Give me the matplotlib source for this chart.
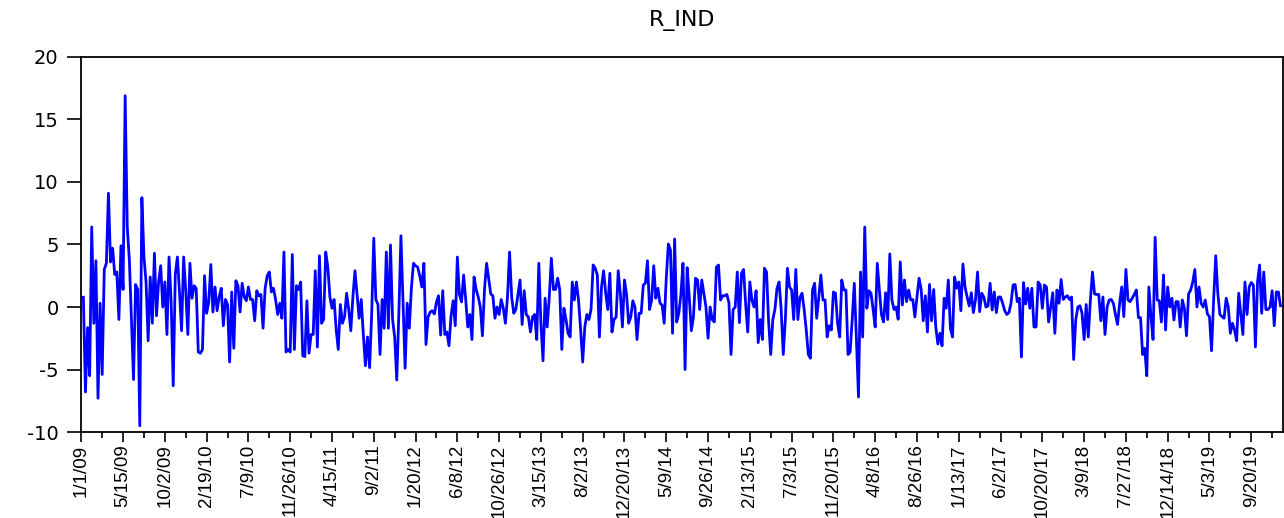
"""
weekly R_IND series, EViews style line plot
"""

import matplotlib

matplotlib.use("Agg")
import matplotlib.pyplot as plt
import numpy as np

plt.rcParams["axes.unicode_minus"] = False

# weekly values, in chunks of roughly one year
r_2009 = [0.78, -6.8, -1.65, -5.5, 6.4, -1.3, 3.7, -7.3, 0.3, -5.4,
          3.0, 3.5, 9.1, 3.6, 4.7, 2.6, 2.8, -1.0, 4.9, 1.4,
          16.9, 6.4, 3.8, -1.0, -5.8, 1.8, 1.4, -9.5, 8.75, 4.0,
          2.0, -2.7, 2.4, -1.3, 4.3, -0.7, 2.0, 3.3, 0.0, 2.0,
          -2.2, 4.0, 0.5, -6.3, 2.6, 4.0, 1.2, -1.9, 4.0, 1.3,
          -2.2, 3.5]
r_2010 = [0.7, 1.7, 1.5, -3.6, -3.7, -3.4, 2.5, -0.5, 0.4, 3.4,
          -0.4, 1.6, -0.3, 0.8, 1.5, -1.5, 0.6, 0.2, -4.4, 1.2,
          -3.3, 2.1, 1.7, -0.4, 1.9, 0.8, 0.5, 1.6, 0.6, 0.6,
          -1.1, 1.3, 0.9, 1.0, -1.7, 1.5, 2.5, 2.8, 1.2, 1.5,
          0.6, -0.6, 0.3, -0.9, 4.4, -3.6, -3.4, -3.6, 4.2, -3.4,
          1.7, 1.4]
r_2011 = [2.0, -3.9, -3.97, 0.5, -3.7, -2.2, -2.2, 2.9, -3.2, 4.1,
          -1.3, -1.0, 4.4, 3.2, 0.8, -0.1, 0.6, -1.8, -3.4, 0.2,
          -1.3, -0.8, 1.1, -0.2, -1.9, 0.8, 2.9, 1.0, -0.9, 0.6,
          -2.2, -4.7, -2.4, -4.85, -0.56, 5.5, 0.6, 0.2, -3.8, 0.6,
          -1.7, 4.4, -1.7, 4.96, -1.0, -2.4, -5.84, -0.5, 5.7, 0.5,
          -4.9, 0.3]
r_2012 = [-1.7, 1.5, 3.5, 3.3, 3.2, 2.5, 1.6, 3.5, -3.0, -0.8,
          -0.4, -0.3, -0.56, 0.4, 0.9, -2.24, 1.3, -2.2, -2.0, -3.1,
          -0.7, 0.5, -1.5, 4.0, 1.0, 0.4, 2.56, 0.6, -1.6, -0.6,
          -2.6, 2.4, 1.4, 0.8, 0.0, -2.3, 1.4, 3.5, 2.3, 1.04,
          0.9, -0.9, 0.0, -0.6, 0.6, -0.1, -1.3, 0.8, 4.4, 0.8,
          -0.5, -0.2]
r_2013 = [1.0, 2.16, -1.4, 1.3, -0.6, -0.8, -2.0, -0.8, -0.6, -2.6,
          3.5, -1.3, -4.3, 0.7, -1.6, 0.8, 3.9, 1.4, 1.4, 2.3,
          1.4, -3.4, -0.1, -1.0, -2.1, -2.4, 2.0, 0.56, 2.0, 0.56,
          -1.8, -4.4, -1.6, -0.6, -1.0, -0.2, 3.36, 3.1, 2.56, -2.4,
          1.6, 2.9, 1.1, -0.2, 2.7, -2.0, -1.0, -0.8, 2.9, 1.1,
          -1.6, 2.16]
r_2014 = [1.0, -1.3, -0.8, 0.5, 0.0, -2.6, -0.5, -0.5, 1.76, 1.9,
          3.7, -0.2, 0.56, 3.3, 0.7, 1.5, 0.3, 0.16, -1.3, 2.3,
          5.04, 4.56, -2.1, 5.44, -1.2, -0.5, 1.0, 3.5, -5.0, 3.15,
          0.8, -1.9, -0.8, 2.3, 2.16, -0.2, 2.16, 1.1, 0.0, -2.5,
          0.0, -1.0, -1.2, 3.2, 3.36, 0.56, 0.9, 0.9, 1.0, 0.35,
          -3.8, -0.2]
r_2015 = [0.0, 2.8, -1.25, 2.7, 3.0, 0.2, -2.0, 2.0, 0.56, 0.0,
          1.3, -2.85, -1.0, -2.6, 3.1, 2.8, -1.2, -3.8, -1.0, -0.2,
          1.5, 2.0, -0.2, -3.8, -1.0, 3.1, 1.6, 1.36, -1.0, 3.0,
          -1.0, 0.76, 1.1, -0.2, -1.84, -3.8, -4.1, 1.36, 1.9, -0.9,
          0.76, 2.56, 0.56, 0.56, -2.4, -1.5, -1.84, 1.2, 1.1, -1.3,
          -2.4, 2.16]
r_2016 = [1.36, 1.36, -3.8, -3.6, -1.0, 1.9, -2.5, -7.2, 2.8, -2.4,
          6.4, -0.1, 1.3, 1.1, -0.2, -1.6, 3.5, 1.36, -0.6, -1.2,
          1.14, -1.0, 4.24, 0.56, -0.2, 0.0, -0.98, 3.6, 0.16, 2.16,
          0.43, 1.36, 0.56, 0.6, -0.8, 0.8, 2.3, 1.4, -1.1, 0.9,
          -2.0, 1.8, -1.1, 1.4, -1.6, -2.96, -2.1, -3.1, 0.7, -0.1,
          2.16, -1.7]
r_2017 = [-2.4, 2.4, 1.5, 2.0, -0.3, 3.44, 1.6, 0.8, 0.08, 1.14,
          -0.45, 0.56, 2.8, -0.37, 1.1, 0.8, 0.0, 0.08, 1.9, -0.24,
          1.2, -0.45, 0.8, 0.8, 0.3, -0.3, -0.6, -0.45, 0.3, 1.76,
          1.8, 0.43, 0.7, -4.0, 1.95, 0.24, 1.5, -0.1, 1.5, -1.6,
          -1.6, 2.0, 1.76, -0.1, 1.76, 1.6, -1.2, 0.0, 1.14, -2.1,
          1.36, 0.3]
r_2018 = [2.2, 0.6, 0.8, 0.9, 0.6, 0.8, -4.2, -1.04, 0.0, 0.1,
          -0.5, -2.6, 0.2, -2.4, 0.56, 2.8, 1.04, 1.0, 1.0, -1.1,
          0.8, -2.2, 0.0, 0.56, 0.6, 0.3, -0.6, -1.4, 0.3, 1.6,
          -0.77, 3.0, 0.56, 0.43, 0.7, 1.0, 1.36, -0.85, -0.85, -3.8,
          -3.3, -5.5, 1.6, -0.77, -2.6, 5.57, 0.56, 0.5, -1.2, 2.56,
          -1.84, 1.6]
r_2019 = [0.0, 0.7, -1.04, 0.43, 0.43, -1.6, 0.56, -0.1, -2.3, 1.04,
          1.36, 2.0, 3.0, 0.0, 1.6, 0.3, 0.0, 0.56, -0.56, -0.77,
          -3.5, 0.6, 4.1, 1.1, -0.6, -0.77, -0.9, 0.7, 0.0, -2.1,
          -1.3, -1.84, -2.7, 1.1, -0.6, -2.2, 2.0, -0.6, 1.6, 1.96,
          1.76, -3.2, 2.0, 3.36, -0.5, 2.8, -0.2, -0.2, 0.0, 1.3,
          -1.5, 1.2, 1.2, 0.1]

r_ind = np.array(r_2009 + r_2010 + r_2011 + r_2012 + r_2013 + r_2014
                 + r_2015 + r_2016 + r_2017 + r_2018 + r_2019)

# date labels shown every 20 weeks
tick_labels = ["1/1/09", "5/15/09", "10/2/09", "2/19/10", "7/9/10",
               "11/26/10", "4/15/11", "9/2/11", "1/20/12", "6/8/12",
               "10/26/12", "3/15/13", "8/2/13", "12/20/13", "5/9/14",
               "9/26/14", "2/13/15", "7/3/15", "11/20/15", "4/8/16",
               "8/26/16", "1/13/17", "6/2/17", "10/20/17", "3/9/18",
               "7/27/18", "12/14/18", "5/3/19", "9/20/19"]

n = len(r_ind)
x = np.arange(n)

fig = plt.figure(figsize=(12.84, 5.18), dpi=100)
ax = fig.add_axes([0.0629, 0.166, 0.936, 0.724])

ax.plot(x, r_ind, color="#0000ff", linewidth=2.0)

x_left = -1.25
ax.set_xlim(x_left, n)
ax.set_ylim(-10, 20)
ax.set_yticks([-10, -5, 0, 5, 10, 15, 20])

# first label sits on the left edge, the rest every 20 observations
major = [x_left] + list(range(19, n, 20))
ax.set_xticks(major[:len(tick_labels)])
ax.set_xticklabels(tick_labels, rotation=90, family="Liberation Sans",
                   fontsize=13.5)
ax.set_xticks(list(range(9, n, 20)), minor=True)

for label in ax.get_yticklabels():
    label.set_fontsize(14)

ax.tick_params(axis="y", which="major", direction="out", length=10,
               width=1.2, pad=6, right=False)
ax.tick_params(axis="x", which="major", direction="out", length=7,
               width=1.2, pad=2, top=False)
ax.tick_params(axis="x", which="minor", direction="out", length=4,
               width=1.2, top=False)

for side in ["left", "right", "top", "bottom"]:
    ax.spines[side].set_linewidth(1.3)

ax.set_title("R_IND", fontsize=16, pad=22)

fig.savefig("out.png", dpi=100)
